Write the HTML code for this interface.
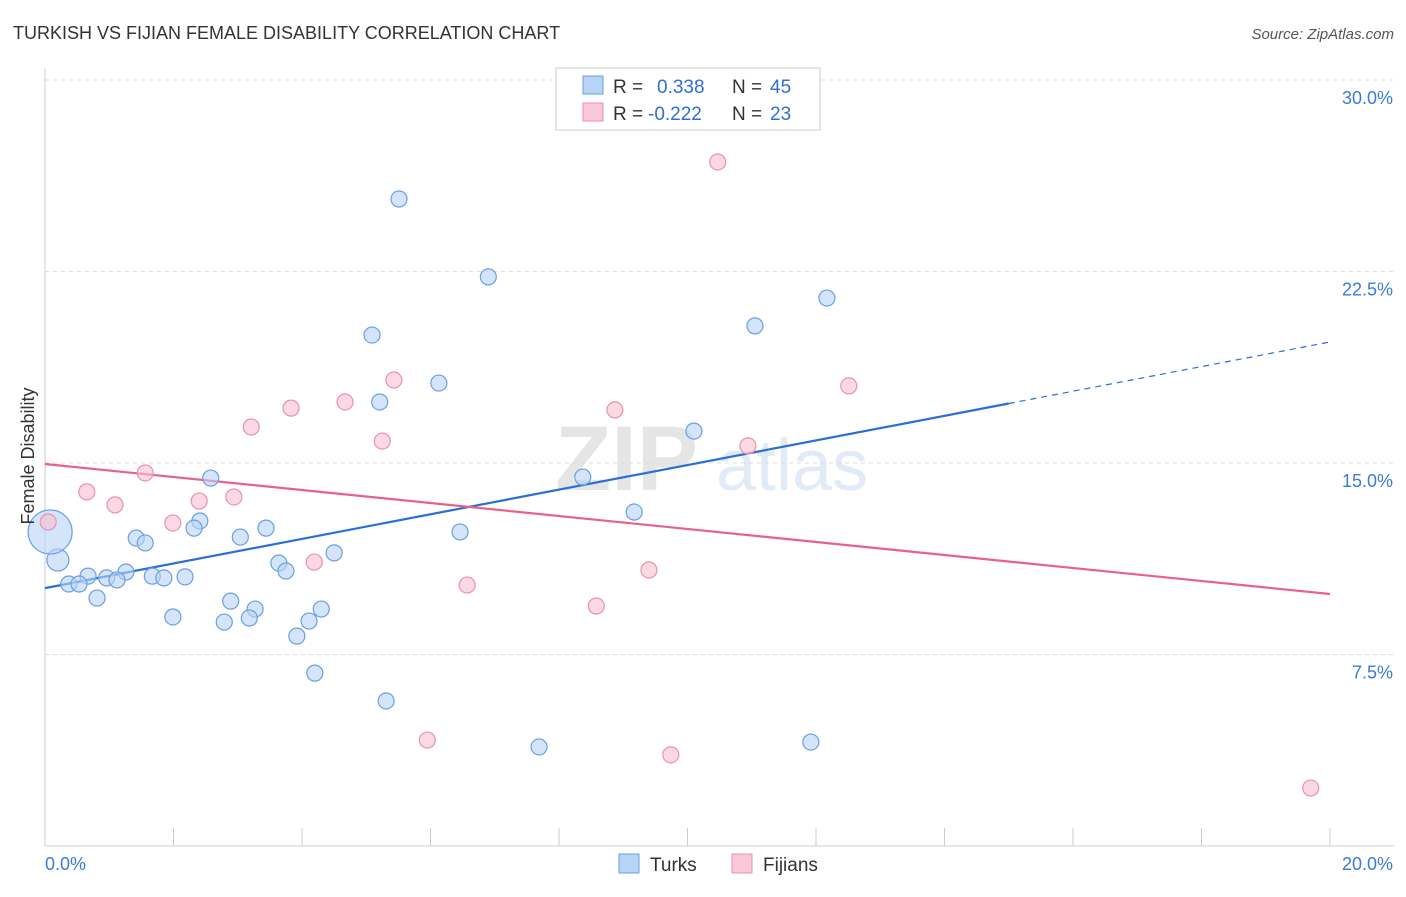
<!DOCTYPE html>
<html><head><meta charset="utf-8"><style>
body{margin:0;background:#fff;font-family:"Liberation Sans",sans-serif;}
svg text{font-family:"Liberation Sans",sans-serif;}
</style></head><body>
<svg id="chart" width="1406" height="892" xmlns="http://www.w3.org/2000/svg">
<text x="13" y="39" font-size="18" fill="#333">TURKISH VS FIJIAN FEMALE DISABILITY CORRELATION CHART</text>
<text x="1394" y="39" font-size="15" fill="#555" text-anchor="end" font-style="italic">Source: ZipAtlas.com</text>
<g opacity="0.25">
<text x="555" y="490" font-size="92" fill="#999" font-family="Liberation Serif" font-weight="bold">ZIP</text>
<text x="716" y="490" font-size="72" fill="#8ab0e0">atlas</text>
</g>
<g id="grid"></g>
<g id="axes"></g>
<g id="trends"></g>
<g id="points"></g>
<text transform="translate(34,456) rotate(-90)" font-size="18" fill="#333" text-anchor="middle">Female Disability</text>
<g>
<rect x="556" y="68" width="264" height="62" fill="#fff" stroke="#ccc"/>
<rect x="583" y="76" width="20" height="18" fill="#b8d4f5" stroke="#6a9fe0"/>
<rect x="583" y="103" width="20" height="18" fill="#f8c8d6" stroke="#ec90ac"/>
<text x="613" y="93" font-size="19" fill="#333">R =</text>
<text x="657" y="93" font-size="19" fill="#2f6fd6">0.338</text>
<text x="732" y="93" font-size="19" fill="#333">N =</text>
<text x="770" y="93" font-size="19" fill="#2f6fd6">45</text>
<text x="613" y="120" font-size="19" fill="#333">R =</text>
<text x="648" y="120" font-size="19" fill="#2f6fd6">-0.222</text>
<text x="732" y="120" font-size="19" fill="#333">N =</text>
<text x="770" y="120" font-size="19" fill="#2f6fd6">23</text>
</g>
<g>
<rect x="619" y="854" width="20" height="19" fill="#b8d4f5" stroke="#6a9fe0"/>
<text x="650" y="871" font-size="19" fill="#333">Turks</text>
<rect x="732" y="854" width="20" height="19" fill="#f8c8d6" stroke="#ec90ac"/>
<text x="763" y="871" font-size="19" fill="#333">Fijians</text>
</g>
</svg>
<script>
const yTicks=[7.5,15,22.5,30];
const yTickLabels=["7.5%","15.0%","22.5%","30.0%"];
const xTickLabels=["0.0%","20.0%"];
const turksX=[5.51,6.90,5.09,11.05,12.17,6.13,5.21,10.10,8.37,2.58,9.17,6.46,2.41,2.32,3.44,3.04,1.42,1.56,0.20,4.50,3.64,3.75,1.26,0.67,0.96,1.12,0.37,0.53,1.67,1.85,2.18,0.81,2.89,3.27,4.30,1.99,2.79,3.18,4.11,3.92,4.20,5.31,7.69,11.92,0.08];
const turksY=[25.34,22.29,20.01,20.37,21.46,18.13,17.39,16.25,14.45,14.41,13.08,12.30,12.73,12.45,12.45,12.10,12.06,11.87,11.20,11.48,11.08,10.77,10.73,10.57,10.50,10.42,10.26,10.26,10.57,10.50,10.54,9.71,9.59,9.28,9.28,8.97,8.77,8.93,8.81,8.22,6.77,5.68,3.88,4.07,12.30];
const turksR=[8,8,8,8,8,8,8,8,8,8,8,8,8,8,8,8,8,8,11,8,8,8,8,8,8,8,8,8,8,8,8,8,8,8,8,8,8,8,8,8,8,8,8,8,22];
const fijiX=[10.47,5.43,12.51,4.67,3.83,8.87,3.21,5.25,10.94,1.56,0.65,2.94,2.40,1.09,1.99,0.05,4.19,9.40,6.57,8.58,5.95,9.74,19.70];
const fijiY=[26.79,18.25,18.02,17.39,17.15,17.08,16.41,15.86,15.67,14.61,13.87,13.67,13.51,13.36,12.65,12.69,11.12,10.81,10.22,9.40,4.15,3.57,2.27];
const turksTrend=[10.10,19.74];
const fijiTrend=[14.96,9.87];
const NS="http://www.w3.org/2000/svg";
const X=v=>45+v*64.25, Y=v=>846-v*25.533;
function mk(tag,attrs,parent){const e=document.createElementNS(NS,tag);for(const k in attrs)e.setAttribute(k,attrs[k]);parent.appendChild(e);return e;}
const grid=document.getElementById('grid'),axes=document.getElementById('axes');
yTicks.forEach((t,i)=>{
 const l=mk('line',{x1:45,x2:1394,y1:Y(t),y2:Y(t),stroke:'#ddd','stroke-dasharray':'4,4'},grid);
 
 
 const tx=mk('text',{x:1393,y:Y(t)+24,'font-size':18,fill:'#3b7bd8','text-anchor':'end'},axes);
 tx.textContent=yTickLabels[i];
 
 
});
const topLine=mk('line',{x1:45,x2:1394,y1:80,y2:80,stroke:'#ddd','stroke-dasharray':'4,4'},grid);


mk('line',{x1:45,x2:45,y1:68,y2:846,stroke:'#ccc'},axes);
mk('line',{x1:45,x2:1394,y1:846,y2:846,stroke:'#ccc'},axes);
for(let i=0;i<=10;i++){mk('line',{x1:X(i*2),x2:X(i*2),y1:828,y2:846,stroke:'#ccc'},axes);}
xTickLabels.forEach((s,i)=>{const t=mk('text',{x:i?1393:45,y:870,'font-size':18,fill:'#3b7bd8','text-anchor':i?'end':'start'},axes);t.textContent=s;
 
 });
const tr=document.getElementById('trends');
const bl=mk('line',{x1:X(0),y1:Y(turksTrend[0]),x2:X(15),y2:Y(turksTrend[0]+(turksTrend[1]-turksTrend[0])*0.75),stroke:'#2a6fd6','stroke-width':2.2},tr);


const bd=mk('line',{x1:X(15),y1:Y(turksTrend[0]+(turksTrend[1]-turksTrend[0])*0.75),x2:X(20),y2:Y(turksTrend[1]),stroke:'#2a6fd6','stroke-width':1.2,'stroke-dasharray':'6,5'},tr);


const pl=mk('line',{x1:X(0),y1:Y(fijiTrend[0]),x2:X(20),y2:Y(fijiTrend[1]),stroke:'#e8608c','stroke-width':2.2},tr);


const pts=document.getElementById('points');
turksX.forEach((x,i)=>{const c=mk('circle',{cx:X(x),cy:Y(turksY[i]),r:turksR[i],fill:'rgba(184,212,245,0.6)',stroke:'#6a9fe0','stroke-width':1.2},pts);
 
 });
fijiX.forEach((x,i)=>{const c=mk('circle',{cx:X(x),cy:Y(fijiY[i]),r:8,fill:'rgba(248,192,208,0.6)',stroke:'#ec90ac','stroke-width':1.2},pts);
 
 });
</script>
</body></html>
